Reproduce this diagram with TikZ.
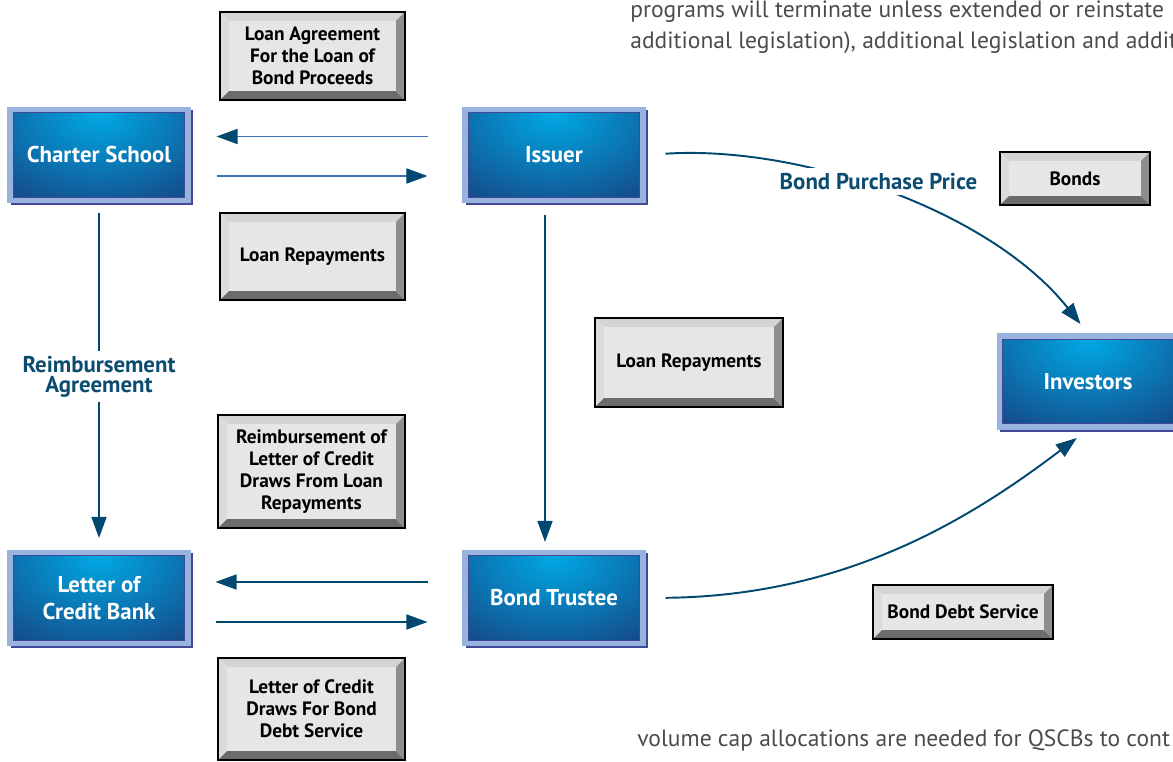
\documentclass[tikz,border=0pt]{standalone}
\usepackage{fontspec}
\setmainfont{PT Sans}
\usetikzlibrary{arrows.meta, positioning, calc}
\definecolor{framelight}{RGB}{152, 180, 222}
\definecolor{framedark}{RGB}{66, 72, 150}
\definecolor{innerlight}{RGB}{0, 168, 228}
\definecolor{innerdark}{RGB}{22, 66, 128}
\definecolor{flownavy}{RGB}{0, 72, 112}
\definecolor{flowsky}{RGB}{62, 112, 182}
\definecolor{labelblue}{RGB}{12, 76, 112}
\definecolor{panelface}{RGB}{230, 230, 230}
\definecolor{beveltop}{RGB}{212, 212, 212}
\definecolor{bevelleft}{RGB}{220, 220, 220}
\definecolor{bevelbottom}{RGB}{108, 108, 108}
\definecolor{bevelright}{RGB}{142, 142, 142}
\definecolor{bodygray}{RGB}{75, 75, 75}

\begin{document}
\begin{tikzpicture}[x=0.02cm, y=-0.02cm,
  entity/.style={draw=framelight, fill=framelight, line width=0.6pt,
    minimum width=3.64cm, minimum height=1.9cm, inner sep=0pt,
    text=white, align=center, font=\fontsize{13}{15}\selectfont\bfseries,
    preaction={fill=framedark, transform canvas={xshift=1.6pt, yshift=-1.6pt}},
    path picture={
      \begin{scope}
        \clip ([shift={(3pt,3pt)}]path picture bounding box.south west) rectangle ([shift={(-3pt,-3pt)}]path picture bounding box.north east);
        \fill[innerdark] (path picture bounding box.south west) rectangle (path picture bounding box.north east);
        \shade[inner color=innerlight, outer color=innerdark] ([yshift=-0.15cm]path picture bounding box.north) ellipse (3.2cm and 2.2cm);
      \end{scope}
      \draw[framedark, line width=0.7pt] ([shift={(3pt,3pt)}]path picture bounding box.south west) rectangle ([shift={(-3pt,-3pt)}]path picture bounding box.north east);
    }},
  panel/.style={draw=black, line width=1.4pt, fill=panelface, inner sep=0pt,
    align=center, font=\fontsize{11}{12.5}\selectfont\bfseries,
    path picture={
      \fill[beveltop] (path picture bounding box.north west) -- (path picture bounding box.north east) -- ([shift={(-5pt,-5pt)}]path picture bounding box.north east) -- ([shift={(5pt,-5pt)}]path picture bounding box.north west) -- cycle;
      \fill[bevelleft] (path picture bounding box.north west) -- ([shift={(5pt,-5pt)}]path picture bounding box.north west) -- ([shift={(5pt,5pt)}]path picture bounding box.south west) -- (path picture bounding box.south west) -- cycle;
      \fill[bevelbottom] (path picture bounding box.south west) -- ([shift={(5pt,5pt)}]path picture bounding box.south west) -- ([shift={(-5pt,5pt)}]path picture bounding box.south east) -- (path picture bounding box.south east) -- cycle;
      \fill[bevelright] (path picture bounding box.south east) -- ([shift={(-5pt,5pt)}]path picture bounding box.south east) -- ([shift={(-5pt,-5pt)}]path picture bounding box.north east) -- (path picture bounding box.north east) -- cycle;
    }},
  flow/.style={-{Triangle[length=12pt, width=8.5pt, color=flownavy]}, line width=1.1pt, draw=flownavy},
  flowlabel/.style={fill=white, text=labelblue, align=center, inner sep=3pt,
    font=\fontsize{13}{11.5}\selectfont\bfseries},
  bodytext/.style={text=bodygray, inner sep=0pt, anchor=base west, font=\fontsize{13.4}{16}\selectfont}
]
  \useasboundingbox (0,0) rectangle (1173,761);

  % running text of the page
  \node[bodytext] (bodyone) at (630,17) {programs will terminate unless extended or reinstate};
  \node[bodytext] (bodytwo) at (630,48) {additional legislation), additional legislation and addit};
  \node[bodytext] (bodythree) at (637,746) {volume cap allocations are needed for QSCBs to cont};

  % parties
  \node[entity] (charter) at (99,155) {Charter School};
  \node[entity] (issuer) at (554,155) {Issuer};
  \node[entity] (investors) at (1088,381.5) {Investors};
  \node[entity] (locbank) at (99,598) {Letter of\\Credit Bank};
  \node[entity] (trustee) at (554,598) {Bond Trustee};

  % documents and payments
  \node[panel, minimum width=3.7cm, minimum height=1.76cm] (loanagr) at (312.5,56) {Loan Agreement\\For the Loan of\\Bond Proceeds};
  \node[panel, minimum width=3.7cm, minimum height=1.74cm] (repaytop) at (312.5,256.5) {Loan Repayments};
  \node[panel, minimum width=3.76cm, minimum height=1.78cm] (repaymid) at (689,362.5) {Loan Repayments};
  \node[panel, minimum width=3.74cm, minimum height=2.26cm] (reimb) at (311.5,471.5) {Reimbursement of\\Letter of Credit\\Draws From Loan\\Repayments};
  \node[panel, minimum width=3.74cm, minimum height=2.04cm] (locdraws) at (311.5,709) {Letter of Credit\\Draws For Bond\\Debt Service};
  \node[panel, minimum width=3cm, minimum height=1.06cm] (bonds) at (1075,178.5) {Bonds};
  \node[panel, minimum width=3.6cm, minimum height=1.08cm] (debtsvc) at (963,612) {Bond Debt Service};

  % flows
  \draw[flow, draw=flowsky, shorten <=0.7cm, shorten >=0.52cm] ([yshift=0.37cm]issuer.west) -- ([yshift=0.37cm]charter.east);
  \draw[flow, draw=flowsky, shorten <=0.52cm, shorten >=0.7cm] ([yshift=-0.42cm]charter.east) -- ([yshift=-0.42cm]issuer.west);
  \draw[flow, shorten <=0.7cm, shorten >=0.5cm] ([yshift=0.32cm]trustee.west) -- ([yshift=0.32cm]locbank.east);
  \draw[flow, shorten <=0.5cm, shorten >=0.7cm] ([yshift=-0.48cm]locbank.east) -- ([yshift=-0.48cm]trustee.west);
  \draw[flow, shorten <=0.2cm, shorten >=0.24cm] (charter.south) -- node[flowlabel] {Reimbursement\\Agreement} (locbank.north);
  \draw[flow, shorten <=0.24cm, shorten >=0.16cm] ([xshift=-0.18cm]issuer.south) -- ([xshift=-0.18cm]trustee.north);
  \draw[flow, shorten <=0.4cm, shorten >=0.24cm] (issuer.east) .. controls (800,145) and (990,210) .. (investors.north)
    node[pos=0.48, flowlabel, yshift=0.18cm] {Bond Purchase Price};
  \draw[flow, shorten <=0.4cm, shorten >=0.28cm] (trustee.east) .. controls (850,596) and (975,515) .. (investors.south);
\end{tikzpicture}
\end{document}
